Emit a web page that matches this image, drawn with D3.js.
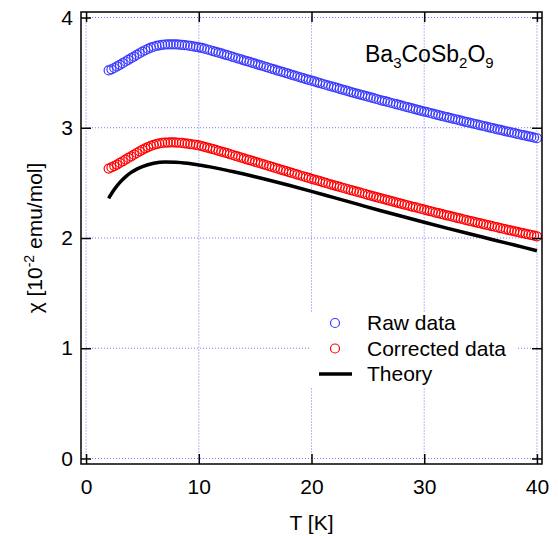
<!DOCTYPE html>
<html>
<head>
<meta charset="utf-8">
<script src="https://cdn.jsdelivr.net/npm/d3@7"></script>
<style>
  body { margin: 0; background: #fff; }
  text { font-family: "Liberation Sans", Arial, sans-serif; fill: #000; }
</style>
</head>
<body>
<div id="chart"></div>
<script>
// measured temperatures [K], 0.25 K steps
const temperatures = [
  2, 2.25, 2.5, 2.75, 3, 3.25, 3.5, 3.75, 4, 4.25, 4.5, 4.75, 5, 5.25, 5.5, 5.75,
  6, 6.25, 6.5, 6.75, 7, 7.25, 7.5, 7.75, 8, 8.25, 8.5, 8.75, 9, 9.25, 9.5, 9.75,
  10, 10.25, 10.5, 10.75, 11, 11.25, 11.5, 11.75, 12, 12.25, 12.5, 12.75, 13, 13.25, 13.5, 13.75,
  14, 14.25, 14.5, 14.75, 15, 15.25, 15.5, 15.75, 16, 16.25, 16.5, 16.75, 17, 17.25, 17.5, 17.75,
  18, 18.25, 18.5, 18.75, 19, 19.25, 19.5, 19.75, 20, 20.25, 20.5, 20.75, 21, 21.25, 21.5, 21.75,
  22, 22.25, 22.5, 22.75, 23, 23.25, 23.5, 23.75, 24, 24.25, 24.5, 24.75, 25, 25.25, 25.5, 25.75,
  26, 26.25, 26.5, 26.75, 27, 27.25, 27.5, 27.75, 28, 28.25, 28.5, 28.75, 29, 29.25, 29.5, 29.75,
  30, 30.25, 30.5, 30.75, 31, 31.25, 31.5, 31.75, 32, 32.25, 32.5, 32.75, 33, 33.25, 33.5, 33.75,
  34, 34.25, 34.5, 34.75, 35, 35.25, 35.5, 35.75, 36, 36.25, 36.5, 36.75, 37, 37.25, 37.5, 37.75,
  38, 38.25, 38.5, 38.75, 39, 39.25, 39.5, 39.75, 40
];

// raw susceptibility [10^-2 emu/mol]
const rawChi = [
  3.520, 3.530, 3.542, 3.556, 3.571, 3.586, 3.601, 3.616, 3.631, 3.646, 3.661, 3.676, 3.690, 3.703, 3.715, 3.726,
  3.735, 3.742, 3.748, 3.752, 3.755, 3.756, 3.757, 3.757, 3.756, 3.754, 3.752, 3.749, 3.746, 3.742, 3.738, 3.734,
  3.730, 3.724, 3.717, 3.710, 3.703, 3.696, 3.689, 3.681, 3.674, 3.666, 3.659, 3.651, 3.643, 3.635, 3.628, 3.620,
  3.612, 3.604, 3.597, 3.589, 3.581, 3.573, 3.566, 3.558, 3.550, 3.542, 3.535, 3.527, 3.519, 3.511, 3.504, 3.496,
  3.488, 3.480, 3.473, 3.465, 3.457, 3.450, 3.442, 3.435, 3.427, 3.420, 3.412, 3.405, 3.397, 3.390, 3.382, 3.375,
  3.368, 3.361, 3.353, 3.346, 3.339, 3.332, 3.324, 3.317, 3.310, 3.303, 3.296, 3.289, 3.282, 3.275, 3.268, 3.261,
  3.254, 3.247, 3.241, 3.234, 3.227, 3.220, 3.214, 3.207, 3.200, 3.193, 3.187, 3.180, 3.173, 3.167, 3.160, 3.154,
  3.147, 3.141, 3.134, 3.128, 3.121, 3.115, 3.108, 3.102, 3.096, 3.090, 3.083, 3.077, 3.071, 3.065, 3.058, 3.052,
  3.046, 3.040, 3.034, 3.028, 3.022, 3.016, 3.010, 3.004, 2.998, 2.992, 2.986, 2.980, 2.974, 2.968, 2.962, 2.957,
  2.951, 2.945, 2.939, 2.934, 2.928, 2.922, 2.917, 2.911, 2.905
];

// after core diamagnetic correction
const correctedChi = [
  2.630, 2.640, 2.652, 2.666, 2.681, 2.696, 2.711, 2.726, 2.741, 2.756, 2.771, 2.786, 2.800, 2.813, 2.825, 2.836,
  2.845, 2.852, 2.858, 2.862, 2.865, 2.866, 2.867, 2.867, 2.866, 2.864, 2.862, 2.859, 2.856, 2.852, 2.848, 2.844,
  2.840, 2.834, 2.827, 2.820, 2.813, 2.806, 2.799, 2.791, 2.784, 2.776, 2.769, 2.761, 2.753, 2.745, 2.738, 2.730,
  2.722, 2.714, 2.707, 2.699, 2.691, 2.683, 2.676, 2.668, 2.660, 2.652, 2.645, 2.637, 2.629, 2.621, 2.614, 2.606,
  2.598, 2.590, 2.583, 2.575, 2.567, 2.560, 2.552, 2.545, 2.537, 2.530, 2.522, 2.515, 2.507, 2.500, 2.492, 2.485,
  2.478, 2.471, 2.463, 2.456, 2.449, 2.442, 2.434, 2.427, 2.420, 2.413, 2.406, 2.399, 2.392, 2.385, 2.378, 2.371,
  2.364, 2.357, 2.351, 2.344, 2.337, 2.330, 2.324, 2.317, 2.310, 2.303, 2.297, 2.290, 2.283, 2.277, 2.270, 2.264,
  2.257, 2.251, 2.244, 2.238, 2.231, 2.225, 2.218, 2.212, 2.206, 2.200, 2.193, 2.187, 2.181, 2.175, 2.168, 2.162,
  2.156, 2.150, 2.144, 2.138, 2.132, 2.126, 2.120, 2.114, 2.108, 2.102, 2.096, 2.090, 2.084, 2.078, 2.072, 2.067,
  2.061, 2.055, 2.049, 2.044, 2.038, 2.032, 2.027, 2.021, 2.015
];

const theoryT = [2, 2.5, 3, 3.5, 4, 4.5, 5, 6, 7, 8, 9, 10, 11, 12, 13, 14, 15, 16, 18, 20, 22, 24, 26, 28, 30, 32, 34, 36, 38, 40];
const theoryChi = [2.36, 2.44, 2.505, 2.555, 2.595, 2.625, 2.648, 2.678, 2.69, 2.688, 2.678, 2.662, 2.645, 2.625, 2.603, 2.580,
  2.556, 2.531, 2.478, 2.423, 2.366, 2.309, 2.252, 2.197, 2.143, 2.090, 2.038, 1.987, 1.936, 1.885];

const xTicks = [0, 10, 20, 30, 40];
const yTicks = [0, 1, 2, 3, 4];
const legendLabels = ['Raw data', 'Corrected data', 'Theory'];

(function () {

  const W = 558
  const H = 536
  const frame = { left: 81, right: 542, top: 12, bottom: 464 }

  const svg = d3.select('#chart').append('svg')
    .attr('width', W)
    .attr('height', H)

  const x = d3.scaleLinear()
    .domain([-0.45, 40.45])
    .range([frame.left, frame.right])

  const y = d3.scaleLinear()
    .domain([-0.05, 4.05])
    .range([frame.bottom, frame.top])

  // dotted blue grid, only inside the 0..40 x 0..4 box
  const grid = svg.append('g')
    .attr('stroke', '#7272ff')
    .attr('stroke-width', 1)
    .attr('stroke-dasharray', '1,2')
  grid.selectAll('.gx').data(xTicks).join('line')
    .attr('x1', d => x(d)).attr('x2', d => x(d))
    .attr('y1', y(0)).attr('y2', y(4))
  grid.selectAll('.gy').data(yTicks).join('line')
    .attr('class', 'gy')
    .attr('y1', d => y(d)).attr('y2', d => y(d))
    .attr('x1', x(0)).attr('x2', x(40))

  // legend box hides the grid behind it
  svg.append('rect')
    .attr('x', 311).attr('y', 312)
    .attr('width', 207).attr('height', 75)
    .attr('fill', '#fff')

  // theory curve
  const line = d3.line()
    .x(d => x(d[0]))
    .y(d => y(d[1]))
    .curve(d3.curveMonotoneX)

  svg.append('path')
    .datum(theoryT.map((t, i) => [t, theoryChi[i]]))
    .attr('d', line)
    .attr('fill', 'none')
    .attr('stroke', '#000')
    .attr('stroke-width', 3.5)

  function drawPoints (values, color) {
    svg.append('g').selectAll('circle')
      .data(temperatures.map((t, i) => [t, values[i]]))
      .join('circle')
      .attr('cx', d => x(d[0]))
      .attr('cy', d => y(d[1]))
      .attr('r', 4.5)
      .attr('fill', 'none')
      .attr('stroke', color)
      .attr('stroke-width', 1.2)
  }
  drawPoints(rawChi, '#3a3aff')
  drawPoints(correctedChi, '#ff0000')

  // axes, ticks pointing inwards on all four sides
  const left = svg.append('g')
    .attr('transform', 'translate(' + frame.left + ',0)')
    .call(d3.axisLeft(y).tickValues(yTicks).tickSize(-10).tickPadding(8).tickFormat(d3.format('d')))
  const right = svg.append('g')
    .attr('transform', 'translate(' + frame.right + ',0)')
    .call(d3.axisRight(y).tickValues(yTicks).tickSize(-10).tickFormat(''))
  const bottom = svg.append('g')
    .attr('transform', 'translate(0,' + frame.bottom + ')')
    .call(d3.axisBottom(x).tickValues(xTicks).tickSize(-10).tickPadding(15).tickFormat(d3.format('d')))
  const top = svg.append('g')
    .attr('transform', 'translate(0,' + frame.top + ')')
    .call(d3.axisTop(x).tickValues(xTicks).tickSize(-10).tickFormat(''))

  for (const ax of [left, right, bottom, top]) {
    ax.select('.domain').remove()
    ax.selectAll('line').attr('stroke', '#000').attr('stroke-width', 1.5)
    ax.selectAll('text')
      .attr('font-family', '"Liberation Sans", Arial, sans-serif')
      .attr('font-size', 21)
      .attr('fill', '#000')
  }

  svg.append('rect')
    .attr('x', frame.left).attr('y', frame.top)
    .attr('width', frame.right - frame.left)
    .attr('height', frame.bottom - frame.top)
    .attr('fill', 'none')
    .attr('stroke', '#000')
    .attr('stroke-width', 1.5)

  // axis titles
  svg.append('text')
    .attr('x', (frame.left + frame.right) / 2)
    .attr('y', 530)
    .attr('text-anchor', 'middle')
    .attr('font-size', 21)
    .text('T [K]')

  const yTitle = svg.append('text')
    .attr('transform', 'translate(42,' + ((frame.top + frame.bottom) / 2) + ') rotate(-90)')
    .attr('text-anchor', 'middle')
    .attr('font-size', 21)
  yTitle.append('tspan').text('χ [10')
  yTitle.append('tspan').attr('font-size', 14).attr('dy', -8).text('-2')
  yTitle.append('tspan').attr('dy', 8).text(' emu/mol]')

  // compound name
  const title = svg.append('text')
    .attr('x', 365)
    .attr('y', 62)
    .attr('font-size', 23)
  title.append('tspan').text('Ba')
  title.append('tspan').attr('font-size', 15).attr('dy', 6).text('3')
  title.append('tspan').attr('dy', -6).text('CoSb')
  title.append('tspan').attr('font-size', 15).attr('dy', 6).text('2')
  title.append('tspan').attr('dy', -6).text('O')
  title.append('tspan').attr('font-size', 15).attr('dy', 6).text('9')

  // legend
  const legendY = d3.scalePoint().domain(legendLabels).range([323, 374])
  const legend = svg.append('g')
  legend.selectAll('text').data(legendLabels).join('text')
    .attr('x', 367)
    .attr('y', d => legendY(d) + 7)
    .attr('font-size', 21)
    .text(d => d)
  legend.append('circle')
    .attr('cx', 335).attr('cy', legendY('Raw data')).attr('r', 4.5)
    .attr('fill', 'none').attr('stroke', '#3a3aff').attr('stroke-width', 1.2)
  legend.append('circle')
    .attr('cx', 335).attr('cy', legendY('Corrected data')).attr('r', 4.5)
    .attr('fill', 'none').attr('stroke', '#ff0000').attr('stroke-width', 1.2)
  legend.append('line')
    .attr('x1', 319).attr('x2', 352)
    .attr('y1', legendY('Theory')).attr('y2', legendY('Theory'))
    .attr('stroke', '#000').attr('stroke-width', 3.5)

})();
</script>
</body>
</html>
